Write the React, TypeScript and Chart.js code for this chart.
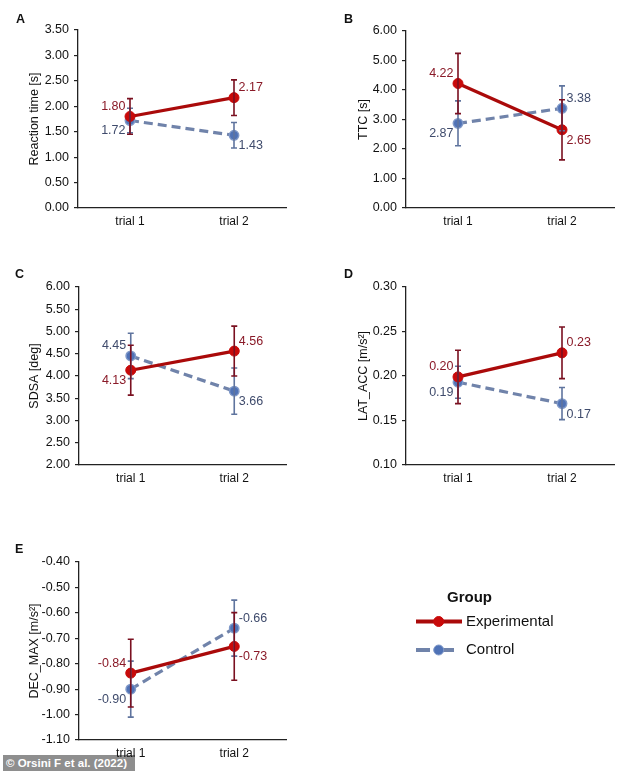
import React, { useEffect, useRef } from "react";
import { Chart, registerables } from "chart.js";
Chart.register(...registerables);

// ---------- data ----------
const trials = ["trial 1", "trial 2"];
const groups = ["Experimental", "Control"];

const rtExp = [1.8, 2.17];
const rtExpErr = [0.35, 0.35];
const rtCtrl = [1.72, 1.43];
const rtCtrlErr = [0.24, 0.25];
const rtRange = [0, 3.5, 0.5];

const ttcExp = [4.22, 2.65];
const ttcExpErr = [1.02, 1.02];
const ttcCtrl = [2.87, 3.38];
const ttcCtrlErr = [0.76, 0.76];
const ttcRange = [0, 6, 1];

const sdsaExp = [4.13, 4.56];
const sdsaExpErr = [0.56, 0.56];
const sdsaCtrl = [4.45, 3.66];
const sdsaCtrlErr = [0.51, 0.52];
const sdsaRange = [2, 6, 0.5];

const latExp = [0.199, 0.226];
const latExpErr = [0.03, 0.029];
const latCtrl = [0.193, 0.169];
const latCtrlErr = [0.018, 0.018];
const latRange = [0.1, 0.3, 0.05];

const decExp = [-0.837, -0.732];
const decExpErr = [0.133, 0.133];
const decCtrl = [-0.9, -0.66];
const decCtrlErr = [0.11, 0.11];
const decRange = [-1.1, -0.4, 0.1];

// ---------- styles ----------
const FONT = "'Liberation Sans', Arial, Helvetica, sans-serif";
const EXP_LINE = "#AA0A0A";
const EXP_FILL = "#C80A0A";
const EXP_ERR = "#7A1020";
const EXP_TEXT = "#8A1A28";
const CTRL_LINE = "#7083AA";
const CTRL_FILL = "#4F72B6";
const CTRL_BORDER = "#7F98C8";
const CTRL_ERR = "#5F749E";
const CTRL_TEXT = "#3F4B6C";
const AXIS = "#222";
const XH = 30;

type Panel = {
  letter: string;
  title: string;
  exp: number[];
  expErr: number[];
  ctrl: number[];
  ctrlErr: number[];
  range: number[];
  expPos: string[];
  ctrlPos: string[];
  box: { L: number; T: number; W: number; H: number };
  plot: { l: number; t: number; r: number; b: number };
  titleX: number;
  letterXY: number[];
  legend?: boolean;
};

const panels: Panel[] = [
  {
    letter: "A", title: "Reaction time [s]",
    exp: rtExp, expErr: rtExpErr, ctrl: rtCtrl, ctrlErr: rtCtrlErr, range: rtRange,
    expPos: ["lu", "ru"], ctrlPos: ["ld", "rd"],
    box: { L: 0, T: 0, W: 317, H: 255 }, plot: { l: 78, t: 30, r: 286, b: 208 },
    titleX: 35, letterXY: [16, 23],
  },
  {
    letter: "B", title: "TTC [s]",
    exp: ttcExp, expErr: ttcExpErr, ctrl: ttcCtrl, ctrlErr: ttcCtrlErr, range: ttcRange,
    expPos: ["lu", "rd"], ctrlPos: ["ld", "ru"],
    box: { L: 317, T: 0, W: 317, H: 255 }, plot: { l: 406, t: 31, r: 614, b: 208 },
    titleX: 364, letterXY: [344, 23],
  },
  {
    letter: "C", title: "SDSA [deg]",
    exp: sdsaExp, expErr: sdsaExpErr, ctrl: sdsaCtrl, ctrlErr: sdsaCtrlErr, range: sdsaRange,
    expPos: ["ld", "ru"], ctrlPos: ["lu", "rd"],
    box: { L: 0, T: 255, W: 317, H: 245 }, plot: { l: 79, t: 287, r: 286, b: 465 },
    titleX: 35, letterXY: [15, 278],
  },
  {
    letter: "D", title: "LAT_ACC [m/s\u00b2]",
    exp: latExp, expErr: latExpErr, ctrl: latCtrl, ctrlErr: latCtrlErr, range: latRange,
    expPos: ["lu", "ru"], ctrlPos: ["ld", "rd"],
    box: { L: 317, T: 255, W: 317, H: 245 }, plot: { l: 406, t: 287, r: 614, b: 465 },
    titleX: 364, letterXY: [344, 278],
  },
  {
    letter: "E", title: "DEC_MAX [m/s\u00b2]",
    exp: decExp, expErr: decExpErr, ctrl: decCtrl, ctrlErr: decCtrlErr, range: decRange,
    expPos: ["lu", "rd"], ctrlPos: ["ld", "ru"],
    box: { L: 0, T: 500, W: 634, H: 271 }, plot: { l: 79, t: 562, r: 286, b: 740 },
    titleX: 35, letterXY: [15, 553], legend: true,
  },
];

const errPlugin = {
  id: "errbars",
  afterDatasetsDraw(chart: any) {
    const ctx = chart.ctx;
    const y = chart.scales.y;
    for (let di = chart.data.datasets.length - 1; di >= 0; di--) {
      const ds = chart.data.datasets[di];
      const meta = chart.getDatasetMeta(di);
      ds.errors.forEach((e: number, i: number) => {
        const pt = meta.data[i];
        const v = ds.data[i];
        const y1 = y.getPixelForValue(v + e);
        const y2 = y.getPixelForValue(v - e);
        ctx.save();
        ctx.strokeStyle = ds.errColor;
        ctx.lineWidth = 1.6;
        ctx.beginPath();
        ctx.moveTo(pt.x, y1);
        ctx.lineTo(pt.x, y2);
        ctx.moveTo(pt.x - 3, y1);
        ctx.lineTo(pt.x + 3, y1);
        ctx.moveTo(pt.x - 3, y2);
        ctx.lineTo(pt.x + 3, y2);
        ctx.stroke();
        ctx.restore();
      });
    }
  },
};

const labelPlugin = {
  id: "valuelabels",
  afterDraw(chart: any) {
    const ctx = chart.ctx;
    chart.data.datasets.forEach((ds: any, di: number) => {
      const meta = chart.getDatasetMeta(di);
      ds.data.forEach((v: number, i: number) => {
        const pt = meta.data[i];
        const pos = ds.labelPos[i];
        ctx.save();
        ctx.font = `12.5px ${FONT}`;
        ctx.fillStyle = ds.valueColor;
        ctx.textBaseline = "middle";
        const left = pos[0] === "l";
        ctx.textAlign = left ? "right" : "left";
        const x = left ? pt.x - 4.5 : pt.x + 4.5;
        const yy = pos[1] === "u" ? pt.y - 10 : pt.y + 10.5;
        ctx.fillText(v.toFixed(2), x, yy);
        ctx.restore();
      });
    });
  },
};

function makeDecoPlugin(p: Panel) {
  return {
    id: "deco",
    afterDraw(chart: any) {
      const ctx = chart.ctx;
      ctx.save();
      ctx.font = `bold 12.5px ${FONT}`;
      ctx.fillStyle = "#111";
      ctx.textBaseline = "alphabetic";
      ctx.textAlign = "left";
      ctx.fillText(p.letter, p.letterXY[0] - p.box.L, p.letterXY[1] - p.box.T);
      if (p.legend) {
        const ox = -p.box.L;
        const oy = -p.box.T;
        ctx.font = `bold 15px ${FONT}`;
        ctx.textAlign = "center";
        ctx.textBaseline = "middle";
        ctx.fillText("Group", 469.5 + ox, 598 + oy);
        const ds = chart.data.datasets;
        const rows = [621.5, 650];
        ds.forEach((d: any, i: number) => {
          const yy = rows[i] + oy;
          ctx.save();
          ctx.strokeStyle = d.borderColor;
          ctx.lineWidth = 4;
          if (d.borderDash) ctx.setLineDash([14, 10]);
          ctx.beginPath();
          ctx.moveTo(416 + ox, yy);
          ctx.lineTo(462 + ox, yy);
          ctx.stroke();
          ctx.setLineDash([]);
          ctx.beginPath();
          ctx.arc(438.7 + ox, yy, 5, 0, Math.PI * 2);
          ctx.fillStyle = d.pointBackgroundColor;
          ctx.fill();
          ctx.lineWidth = 1;
          ctx.strokeStyle = d.pointBorderColor;
          ctx.stroke();
          ctx.restore();
          ctx.font = `15px ${FONT}`;
          ctx.fillStyle = "#111";
          ctx.textAlign = "left";
          ctx.textBaseline = "middle";
          ctx.fillText(d.label, 466 + ox, yy);
        });
      }
      ctx.restore();
    },
  };
}

function PanelChart({ p }: { p: Panel }) {
  const ref = useRef<HTMLCanvasElement>(null);
  useEffect(() => {
    if (!ref.current) return;
    const [min, max, step] = p.range;
    const chart = new Chart(ref.current, {
      type: "line",
      data: {
        labels: trials,
        datasets: [
          {
            label: groups[0],
            data: p.exp,
            errors: p.expErr,
            labelPos: p.expPos,
            valueColor: EXP_TEXT,
            errColor: EXP_ERR,
            borderColor: EXP_LINE,
            backgroundColor: EXP_FILL,
            pointBackgroundColor: EXP_FILL,
            pointBorderColor: EXP_FILL,
            pointRadius: 5,
            pointBorderWidth: 1,
            borderWidth: 3.2,
            tension: 0,
            fill: false,
          } as any,
          {
            label: groups[1],
            data: p.ctrl,
            errors: p.ctrlErr,
            labelPos: p.ctrlPos,
            valueColor: CTRL_TEXT,
            errColor: CTRL_ERR,
            borderColor: CTRL_LINE,
            backgroundColor: CTRL_FILL,
            pointBackgroundColor: CTRL_FILL,
            pointBorderColor: CTRL_BORDER,
            pointRadius: 4.7,
            pointBorderWidth: 1.5,
            borderWidth: 3.2,
            borderDash: [9, 5],
            tension: 0,
            fill: false,
          } as any,
        ],
      },
      options: {
        responsive: false,
        animation: false,
        devicePixelRatio: 1,
        layout: {
          padding: {
            left: 0,
            top: p.plot.t - p.box.T,
            right: p.box.L + p.box.W - p.plot.r,
            bottom: p.box.T + p.box.H - p.plot.b - XH,
          },
        },
        plugins: {
          legend: { display: false },
          tooltip: { enabled: false },
        },
        scales: {
          x: {
            type: "category",
            offset: true,
            grid: { display: false, drawTicks: false },
            border: { display: true, color: AXIS, width: 1.3 },
            ticks: { padding: 6, color: "#111", font: { family: FONT, size: 12 } },
            afterFit: (s: any) => {
              s.height = XH;
            },
          },
          y: {
            min,
            max,
            ticks: {
              stepSize: step,
              padding: 5,
              color: "#111",
              font: { family: FONT, size: 12.5 },
              callback: (v: any) => Number(v).toFixed(2),
            },
            grid: {
              display: true,
              drawOnChartArea: false,
              drawTicks: true,
              tickLength: 4,
              color: AXIS,
              lineWidth: 1.2,
            },
            border: { display: true, color: AXIS, width: 1.3 },
            title: {
              display: true,
              text: p.title,
              color: "#111",
              font: { family: FONT, size: 12.5 },
              padding: { top: p.titleX - p.box.L - 7.5, bottom: 0 },
            },
            afterFit: (s: any) => {
              s.width = p.plot.l - p.box.L;
            },
          },
        },
      } as any,
      plugins: [errPlugin, labelPlugin, makeDecoPlugin(p)],
    });
    return () => chart.destroy();
  }, [p]);
  return (
    <canvas
      ref={ref}
      width={p.box.W}
      height={p.box.H}
      style={{
        position: "absolute",
        left: p.box.L,
        top: p.box.T,
        width: p.box.W,
        height: p.box.H,
      }}
    />
  );
}

export default function App() {
  return (
    <div
      style={{
        position: "absolute",
        left: 0,
        top: 0,
        width: 634,
        height: 771,
        overflow: "hidden",
        background: "#fff",
      }}
    >
      <div
        style={{
          position: "absolute",
          left: 3,
          top: 755,
          width: 132,
          height: 16,
          background: "#8e8e8e",
          color: "#fff",
          font: `bold 11.5px ${FONT}`,
          lineHeight: "16px",
          paddingLeft: 3,
          boxSizing: "border-box",
          whiteSpace: "nowrap",
        }}
      >
        © Orsini F et al. (2022)
      </div>
      {panels.map((p) => (
        <PanelChart key={p.letter} p={p} />
      ))}
    </div>
  );
}
